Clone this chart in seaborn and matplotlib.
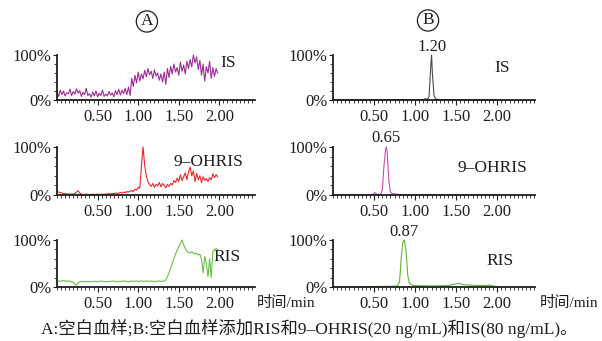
import numpy as np
import pandas as pd
import matplotlib
matplotlib.use("Agg")
import matplotlib.pyplot as plt
from matplotlib.ticker import MultipleLocator, FixedLocator
import seaborn as sns

# ---------------------------------------------------------------
# data (relative abundance, %)
# panel A: blank plasma, sampled every 0.02 min from 0.00 to 1.98
# ---------------------------------------------------------------
time_a = np.round(np.arange(0, 2.0, 0.02), 2)

a_is = [18, 8, 22, 12, 20, 9, 16, 14, 24, 10,
        19, 13, 25, 15, 21, 8, 17, 12, 26, 10,
        14, 6, 18, 9, 20, 7, 15, 10, 22, 8,
        13, 9, 19, 11, 16, 7, 21, 12, 24, 11,
        22, 14, 26, 12, 29, 10,
        48, 30, 55, 38, 62, 42, 58, 47, 66, 52,
        70, 56, 64, 48, 67, 53, 60, 44, 58, 40,
        62, 35, 70, 50, 75, 58, 80, 62, 72, 55,
        84, 64, 78, 58, 86, 70, 90, 74, 100, 82,
        96, 68, 88, 55, 80, 42, 74, 60, 86, 48,
        72, 52, 70, 60]

a_ohris = [7, 6, 5, 4, 3, 3, 2, 2, 2, 2,
           2, 3, 6, 9, 4, 2, 1, 1, 2, 1,
           1, 1, 2, 1, 1, 2, 1, 1, 2, 1,
           2, 2, 3, 2, 3, 3, 4, 3, 4, 5,
           4, 6, 5, 7, 6, 8, 9, 7, 12, 10,
           16, 14, 60, 100, 62, 40, 28, 22, 18, 24,
           16, 22, 19, 26, 17, 24, 20, 15, 22, 18,
           24, 21, 30, 26, 35, 28, 42, 30, 38, 46,
           32, 48, 58, 40, 50, 28, 45, 32, 40, 26,
           38, 30, 34, 28, 36, 32, 44, 36, 42, 38]

a_ris = [12, 13, 12, 13, 14, 13, 12, 13, 12, 11,
         10, 6, 4, 9, 11, 12, 11, 12, 11, 12,
         11, 12, 11, 12, 12, 11, 12, 13, 12, 11,
         12, 11, 12, 12, 13, 12, 12, 11, 12, 12,
         12, 13, 12, 12, 11, 12, 13, 12, 12, 13,
         12, 12, 13, 12, 12, 13, 12, 12, 13, 12,
         12, 12, 12, 13, 12, 12, 13, 15, 22, 30,
         40, 50, 60, 70, 78, 86, 92, 100, 90, 82,
         76, 74, 72, 75, 72, 70, 72, 68, 70, 60,
         30, 65, 50, 22, 60, 20, 75, 80, 82, 80]

# panel B: spiked plasma
b_is_t = [0, 0.5, 1.0, 1.10, 1.13, 1.15, 1.17, 1.19, 1.20, 1.21, 1.23, 1.25, 1.30, 1.60, 2.00]
b_is_v = [0.5, 0.5, 0.8, 1, 3, 1, 8, 75, 100, 60, 10, 2, 1, 0.5, 0.5]

b_ohris_t = [0, 0.40, 0.48, 0.51, 0.54, 0.58, 0.60, 0.62, 0.64, 0.65, 0.66, 0.68,
             0.70, 0.72, 0.76, 0.80, 1.00, 2.00]
b_ohris_v = [0.5, 0.5, 1, 5, 1, 1.5, 10, 60, 95, 100, 88, 30, 5, 3, 2, 1, 0.5, 0.5]

b_ris_t = [0, 0.30, 0.50, 0.70, 0.78, 0.81, 0.83, 0.85, 0.87, 0.89, 0.91, 0.93, 0.96,
           1.00, 1.20, 1.40, 1.48, 1.53, 1.58, 1.65, 1.75, 1.85, 1.90, 1.95, 2.00]
b_ris_v = [0.5, 0.5, 1, 1.5, 2, 10, 60, 95, 100, 75, 25, 8, 4, 3, 2, 3, 6, 8, 5, 4,
           3.5, 3, 4, 2, 1]

x_ticks = [0.5, 1.0, 1.5, 2.0]
x_tick_labels = ["0.50", "1.00", "1.50", "2.00"]
compound_names = ["IS", "9\u2013OHRIS", "RIS"]
peak_labels = ["1.20", "0.65", "0.87"]
peak_times = [1.20, 0.65, 0.87]

sns.set_style("ticks")
plt.rcParams['font.family'] = ['Liberation Serif', 'Noto Sans CJK SC', 'DejaVu Sans']
plt.rcParams['axes.unicode_minus'] = False

ink = "#1e1e1e"
fig = plt.figure(figsize=(6.02, 3.41), dpi=100)

# [left, bottom, width, height]
col_rects = [(0.0947, 0.329, 2.44), (0.5532, 0.3355, 2.46)]
row_rects = [(0.7067, 0.132), (0.4282, 0.1408), (0.1584, 0.1378)]

a_traces = [(time_a, a_is, "#9c2c97"), (time_a, a_ohris, "#e8272b"), (time_a, a_ris, "#6cbd48")]
b_traces = [(b_is_t, b_is_v, "#4a4a4a"), (b_ohris_t, b_ohris_v, "#c24fb3"), (b_ris_t, b_ris_v, "#5fb43c")]

# label positions (time, %) for compound names
a_name_pos = [(2.01, 82), (1.43, 69), (1.93, 64)]
b_name_pos = [(1.96, 71), (1.51, 56), (1.87, 55)]

for col, traces in enumerate([a_traces, b_traces]):
    left, width, xmax = col_rects[col]
    for row in range(3):
        bottom, height = row_rects[row]
        ax = fig.add_axes([left, bottom, width, height])
        t, v, c = traces[row]
        df = pd.DataFrame({"t": t, "v": v})
        sns.lineplot(data=df, x="t", y="v", ax=ax, color=c, lw=0.8,
                     estimator=None, sort=False, clip_on=False)
        ax.set_xlim(0, xmax)
        ax.set_ylim(0, 100)
        ax.set_xlabel("")
        ax.set_ylabel("")
        ax.xaxis.set_major_locator(FixedLocator(x_ticks))
        ax.set_xticklabels(x_tick_labels)
        ax.xaxis.set_minor_locator(MultipleLocator(0.05))
        ax.set_yticks([0, 100])
        ax.set_yticklabels(["0%", "100%"])
        ax.yaxis.set_minor_locator(MultipleLocator(20))
        ax.tick_params(axis="x", which="major", length=3.5, width=0.8, pad=3,
                       labelsize=12, colors=ink)
        ax.tick_params(axis="x", which="minor", length=2.2, width=0.6, colors=ink)
        ax.tick_params(axis="y", which="major", length=3, width=0.8, pad=1,
                       labelsize=12, colors=ink)
        ax.tick_params(axis="y", which="minor", length=2, width=0.6, colors=ink)
        for s in ["top", "right"]:
            ax.spines[s].set_visible(False)
        for s in ["left", "bottom"]:
            ax.spines[s].set_linewidth(1.3)
            ax.spines[s].set_color(ink)
        ax.patch.set_alpha(0)

        if col == 0:
            nx, ny = a_name_pos[row]
        else:
            nx, ny = b_name_pos[row]
            ax.text(peak_times[row], 101, peak_labels[row], ha="center", va="bottom",
                    fontsize=12, color=ink)
        ax.text(nx, ny, compound_names[row], ha="left", va="center",
                fontsize=12.5, color=ink)

# circled panel letters
for x, y, s in [(0.244, 0.937, "A"), (0.711, 0.940, "B")]:
    fig.text(x, y, s, ha="center", va="center", fontsize=12.5, color=ink,
             bbox=dict(boxstyle="circle,pad=0.15", fc="none", ec=ink, lw=0.9))

# axis titles
fig.text(0.427, 0.112, "时间/min", ha="left", va="center", fontsize=11, color=ink)
fig.text(0.896, 0.112, "时间/min", ha="left", va="center", fontsize=11, color=ink)

fig.text(0.513, 0.036,
         "A:空白血样;B:空白血样添加RIS和9\u2013OHRIS(20 ng/mL)和IS(80 ng/mL)。",
         ha="center", va="center", fontsize=12.5, color=ink)

fig.savefig("out.png", dpi=100)
